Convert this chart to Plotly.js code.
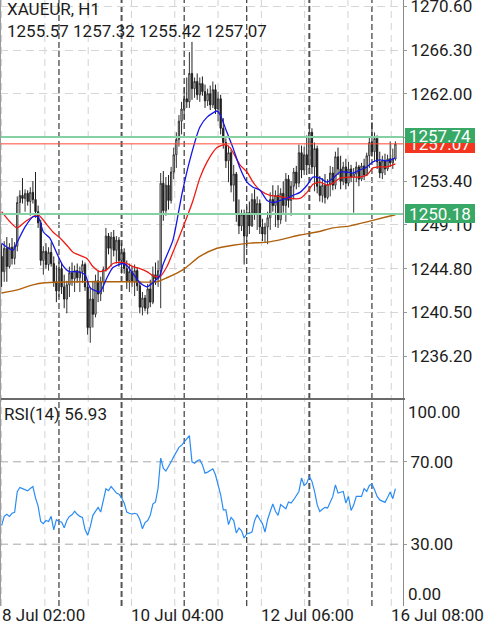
<!DOCTYPE html>
<html><head><meta charset="utf-8">
<script src="https://cdn.plot.ly/plotly-3.0.1.min.js"></script>
<style>html,body{margin:0;padding:0;background:#fff;}#chart{width:488px;height:625px;}</style>
</head><body><div id="chart"></div>
<script>
const symbolTitle = 'XAUEUR, H1';
const openP = [1246.0,1244.5,1246.8,1245.0,1246.9,1245.8,1247.0,1251.3,1252.0,1251.7,1252.2,1251.4,1252.3,1251.6,1250.4,1249.3,1245.6,1246.5,1245.2,1246.4,1245.3,1243.5,1242.6,1244.8,1243.0,1241.8,1243.2,1244.4,1243.8,1244.6,1243.9,1244.5,1245.2,1243.0,1239.0,1241.8,1240.3,1243.6,1242.3,1243.5,1244.7,1248.0,1246.8,1247.9,1246.6,1247.6,1245.6,1246.4,1244.8,1243.6,1244.5,1243.5,1244.6,1243.1,1241.0,1241.9,1240.9,1242.8,1241.5,1244.2,1243.8,1244.6,1253.2,1250.5,1253.0,1251.5,1254.3,1256.0,1257.5,1259.3,1260.5,1261.5,1261.2,1264.0,1262.5,1263.2,1261.9,1263.0,1262.2,1261.3,1262.0,1260.9,1262.4,1260.5,1261.5,1258.6,1257.2,1255.4,1256.2,1253.0,1254.1,1250.2,1249.0,1250.1,1248.0,1250.3,1249.0,1251.6,1250.2,1251.2,1248.9,1248.2,1248.9,1249.8,1251.6,1251.0,1252.0,1249.6,1252.2,1251.0,1253.6,1251.5,1252.9,1254.3,1253.2,1256.2,1254.5,1256.0,1255.0,1258.2,1254.8,1256.6,1252.9,1252.0,1253.0,1251.8,1253.1,1254.2,1253.0,1255.8,1254.6,1253.4,1254.8,1253.2,1254.6,1253.8,1254.1,1254.8,1253.6,1254.9,1254.0,1255.9,1257.2,1256.3,1257.6,1255.3,1254.2,1255.4,1254.6,1255.6,1255.2,1255.57];
const highP = [1247.2,1247.5,1247.9,1247.3,1247.8,1247.4,1251.9,1252.5,1253.7,1252.6,1252.5,1252.8,1253.4,1254.3,1251.0,1249.6,1247.0,1247.3,1246.9,1247.4,1246.0,1245.1,1245.5,1245.4,1244.2,1243.6,1245.0,1245.4,1245.1,1245.3,1245.0,1245.6,1245.4,1243.5,1243.0,1243.6,1244.2,1244.6,1244.0,1245.0,1248.8,1248.3,1248.4,1248.6,1248.0,1247.9,1247.3,1246.8,1245.6,1245.3,1245.0,1245.2,1244.9,1243.6,1242.5,1242.2,1243.3,1243.7,1245.0,1245.4,1245.6,1254.2,1254.4,1253.8,1254.0,1254.8,1256.7,1258.2,1259.9,1261.2,1262.6,1263.6,1266.1,1267.1,1263.6,1264.0,1263.6,1263.7,1262.9,1262.5,1262.8,1263.2,1262.9,1262.2,1261.9,1259.6,1257.6,1256.9,1256.5,1255.0,1254.3,1251.6,1250.6,1250.6,1250.9,1251.4,1252.2,1252.6,1251.9,1251.6,1249.7,1249.3,1250.4,1252.3,1253.0,1252.5,1253.0,1252.7,1253.4,1254.2,1254.0,1253.4,1254.7,1254.9,1257.0,1256.9,1256.8,1257.9,1259.1,1258.6,1257.2,1256.9,1253.9,1253.7,1254.1,1253.6,1254.9,1254.8,1256.3,1256.7,1255.9,1255.3,1255.6,1255.3,1255.0,1254.7,1255.3,1255.0,1255.2,1255.6,1256.2,1257.8,1259.2,1258.2,1257.9,1256.3,1255.9,1256.1,1256.0,1257.3,1256.6,1257.32];
const lowP = [1243.0,1243.5,1243.5,1244.8,1245.2,1245.2,1246.5,1250.2,1251.2,1250.4,1251.0,1250.0,1251.2,1249.8,1248.8,1245.1,1244.2,1244.8,1244.6,1245.0,1243.0,1241.5,1242.0,1242.3,1240.9,1240.4,1242.0,1243.1,1242.5,1243.4,1242.5,1243.4,1242.6,1238.3,1237.5,1239.0,1240.0,1241.5,1241.6,1242.5,1244.5,1246.2,1245.0,1246.0,1245.3,1245.0,1244.3,1244.3,1242.8,1242.5,1243.0,1242.1,1242.6,1240.4,1240.2,1240.6,1240.3,1241.0,1241.3,1243.2,1243.0,1240.9,1249.5,1250.0,1250.6,1251.2,1253.6,1254.7,1256.8,1258.0,1259.5,1260.6,1260.6,1261.4,1261.6,1261.4,1261.2,1261.8,1260.6,1260.8,1260.4,1260.6,1260.0,1259.3,1258.0,1256.6,1254.7,1253.3,1252.3,1251.4,1249.4,1248.2,1248.5,1245.2,1246.8,1248.2,1248.9,1249.6,1248.6,1248.2,1247.5,1247.4,1247.2,1248.6,1250.4,1248.9,1248.8,1249.2,1250.3,1249.4,1250.8,1250.0,1251.6,1252.6,1252.8,1253.7,1254.0,1254.0,1254.6,1254.1,1252.4,1252.2,1251.4,1251.3,1251.2,1251.6,1251.9,1252.5,1252.6,1254.0,1252.6,1253.0,1252.6,1252.9,1253.3,1250.3,1253.3,1252.9,1253.4,1253.5,1253.9,1254.7,1255.8,1255.4,1254.6,1253.7,1253.6,1254.0,1254.4,1254.8,1254.6,1255.42];
const closeP = [1244.5,1246.8,1245.0,1246.9,1245.8,1247.0,1251.3,1252.0,1251.7,1252.2,1251.4,1252.3,1251.6,1250.4,1249.3,1245.6,1246.5,1245.2,1246.4,1245.3,1243.5,1242.6,1244.8,1243.0,1241.8,1243.2,1244.4,1243.8,1244.6,1243.9,1244.5,1245.2,1243.0,1239.0,1241.8,1240.3,1243.6,1242.3,1243.5,1244.7,1248.0,1246.8,1247.9,1246.6,1247.6,1245.6,1246.4,1244.8,1243.6,1244.5,1243.5,1244.6,1243.1,1241.0,1241.9,1240.9,1242.8,1241.5,1244.2,1243.8,1244.6,1253.2,1250.5,1253.0,1251.5,1254.3,1256.0,1257.5,1259.3,1260.5,1261.5,1261.2,1264.0,1262.5,1263.2,1261.9,1263.0,1262.2,1261.3,1262.0,1260.9,1262.4,1260.5,1261.5,1258.6,1257.2,1255.4,1256.2,1253.0,1254.1,1250.2,1249.0,1250.1,1248.0,1250.3,1249.0,1251.6,1250.2,1251.2,1248.9,1248.2,1248.9,1249.8,1251.6,1251.0,1252.0,1249.6,1252.2,1251.0,1253.6,1251.5,1252.9,1254.3,1253.2,1256.2,1254.5,1256.0,1255.0,1258.2,1254.8,1256.6,1252.9,1252.0,1253.0,1251.8,1253.1,1254.2,1253.0,1255.8,1254.6,1253.4,1254.8,1253.2,1254.6,1253.8,1254.1,1254.8,1253.6,1254.9,1254.0,1255.9,1257.2,1256.3,1257.6,1255.3,1254.2,1255.4,1254.6,1255.6,1255.2,1255.57,1257.07];
const rsi14 = [39.0,43.5,44.5,43.5,45.0,45.5,55.5,57.5,57.0,56.4,55.9,57.0,58.0,52.5,48.5,41.0,40.0,41.5,41.0,43.5,37.0,41.9,41.0,40.8,38.0,41.5,43.5,44.3,46.0,44.5,43.5,43.0,37.1,34.3,38.5,44.0,45.9,47.9,45.6,52.0,56.9,56.0,58.0,56.5,54.8,54.3,52.5,50.0,45.6,45.0,44.6,45.0,44.6,42.0,37.5,40.5,41.5,44.0,49.5,50.5,57.2,71.8,66.9,65.5,67.5,70.0,72.5,75.0,77.0,78.0,79.5,81.0,82.7,70.0,69.3,70.5,71.0,68.5,64.5,65.0,66.0,66.6,63.7,58.8,54.0,46.7,46.7,39.5,43.0,41.5,35.4,37.9,36.5,33.0,35.0,35.4,35.9,41.4,44.3,42.0,40.0,35.9,42.0,45.9,49.5,46.0,44.0,49.2,48.0,47.2,50.5,50.0,51.6,53.5,55.6,62.1,58.5,59.6,62.9,60.5,55.6,49.2,45.9,47.0,47.9,47.6,50.8,53.2,58.8,54.8,55.2,55.6,50.0,53.2,46.4,49.0,53.2,53.2,53.2,57.0,55.6,58.5,59.2,56.4,53.2,51.5,50.8,50.3,52.7,55.3,52.1,56.93];

const maFastBars = [0,4.4,6,9,12,14,16,18.5,21,23.5,26,29,32,34,37.7,40.4,42.7,46.2,48,50.4,53,55.7,58,60.7,61.9,65.7,69.2,72.2,76,78.8,82.6,83.7,86.4,88.7,91.4,94.1,96.4,99.1,101.8,104.1,106.8,109.4,111.7,114.4,117.1,119.4,122.1,124.8,127.1,129.8,132.4,134.7,137.4,140.1,142.4,145.1,147.8,150.1,151];
const maFastVals = [1247.3,1246.6,1247.4,1248.9,1249.9,1249.9,1248.4,1247.8,1246.4,1245.1,1244.5,1244.5,1244.2,1242.9,1242.5,1243.9,1244.9,1245.3,1245.1,1244.3,1243.4,1243.0,1243.4,1244.1,1245.2,1247.6,1252.2,1255.5,1258.7,1259.7,1260.3,1260.0,1258.2,1256.7,1254.7,1253.3,1252.8,1252.5,1251.5,1251.3,1251.5,1251.7,1252.0,1252.3,1253.0,1253.8,1253.7,1253.3,1253.7,1254.3,1254.3,1254.2,1254.5,1254.8,1255.3,1255.5,1255.4,1255.6,1255.7];
const maMidBars = [0,3.2,5.9,9,12,14,17.4,19.7,22.4,25,27.4,30,32.7,35,37.7,40.4,42.7,46.2,48,50.4,53,55.7,58,60.7,63.4,65.7,69.6,73.4,76,78.8,82.6,85.6,87.6,91.4,94.1,96.4,99.1,102.9,106.7,110.6,114.4,117.1,119.4,122.1,124.8,127.1,129.8,133.6,137.4,140.1,142.4,145.1,147.8,151];
const maMidVals = [1250.4,1249.4,1248.8,1249.4,1249.9,1250.1,1249.1,1248.4,1247.8,1247.1,1246.4,1246.1,1245.8,1245.0,1244.5,1244.7,1245.3,1245.4,1245.3,1245.0,1244.8,1244.5,1244.1,1244.0,1245.0,1246.4,1248.9,1251.5,1253.7,1255.3,1256.7,1257.0,1256.7,1255.0,1254.3,1253.3,1252.5,1252.0,1251.9,1251.7,1251.7,1252.3,1253.1,1253.3,1253.0,1253.2,1253.7,1253.8,1253.8,1254.0,1254.7,1254.8,1254.8,1255.1];
const maSlowBars = [0,6,12,16.6,30,49.2,59.6,63.4,69.6,76,82.6,88.7,95.2,101.8,107.9,114.4,120.9,127.1,133.6,140.1,146.2,151];
const maSlowVals = [1242.4,1242.7,1243.2,1243.4,1243.5,1243.5,1243.5,1243.9,1244.7,1246.0,1246.8,1247.1,1247.3,1247.4,1247.7,1248.1,1248.4,1248.8,1249.0,1249.4,1249.8,1250.1];

const priceTicks = [1270.60,1266.30,1262.00,1257.70,1253.40,1249.10,1244.80,1240.50,1236.20];
const hiddenPriceTicks = [1257.70];
const rsiTicks = [70,30];
const rsiEndTicks = [100,0];
const levelLines = [1257.74,1250.18];
const timeLabels = ['8 Jul 02:00','10 Jul 04:00','12 Jul 06:00','16 Jul 08:00'];
const timeLabelBars = [0,49.8,99.6,149.4];
const gridBars = [0,16.6,33.2,49.8,66.4,83,99.6,116.2,132.8,149.4];
const daySepBars = [22,46,70,94,118,142];
const strongSepBars = [46,118];

const bars = closeP.map((_, i) => i);
const n = closeP.length;
const lastClose = closeP[n-1];
const FONT = 'Roboto, sans-serif';
const TXT = '#1c1c1c';
const f2 = v => v.toFixed(2);

const traces = [
  {type:'candlestick', x:bars, open:openP, high:highP, low:lowP, close:closeP,
   xaxis:'x', yaxis:'y', whiskerwidth:0, hoverinfo:'skip', showlegend:false,
   increasing:{line:{color:'#333333', width:1}, fillcolor:'#ffffff'},
   decreasing:{line:{color:'#1e1e1e', width:1}, fillcolor:'#1e1e1e'}},
  {type:'scatter', mode:'lines', x:maSlowBars, y:maSlowVals, xaxis:'x', yaxis:'y',
   line:{color:'#b0600c', width:1.4, shape:'spline', smoothing:0.6}, hoverinfo:'skip', showlegend:false},
  {type:'scatter', mode:'lines', x:maMidBars, y:maMidVals, xaxis:'x', yaxis:'y',
   line:{color:'#ee1a14', width:1.3, shape:'spline', smoothing:0.6}, hoverinfo:'skip', showlegend:false},
  {type:'scatter', mode:'lines', x:maFastBars, y:maFastVals, xaxis:'x', yaxis:'y',
   line:{color:'#1515e6', width:1.3, shape:'spline', smoothing:0.6}, hoverinfo:'skip', showlegend:false},
  {type:'scatter', mode:'lines', x:bars, y:rsi14, xaxis:'x2', yaxis:'y2',
   line:{color:'#2a8cf5', width:1.2}, hoverinfo:'skip', showlegend:false}
];

const shapes = [];
gridBars.forEach(b => shapes.push({type:'line', xref:'x', yref:'paper', x0:b, x1:b, y0:0, y1:1,
  line:{color:'#d2d2d2', width:1, dash:'7px,5px'}, layer:'below'}));
daySepBars.forEach(b => {
  const strong = strongSepBars.indexOf(b) >= 0;
  shapes.push({type:'line', xref:'x', yref:'paper', x0:b, x1:b, y0:0, y1:1,
    line:{color: strong ? '#555555' : '#111111', width: strong ? 2 : 1, dash:'6px,3px'}, layer:'below'});
});
rsiTicks.forEach(v => shapes.push({type:'line', xref:'paper', yref:'y2', x0:0, x1:1, y0:v, y1:v,
  line:{color:'#a8a8a8', width:1, dash:'8px,5px'}, layer:'below'}));
levelLines.forEach(v => shapes.push({type:'line', xref:'paper', yref:'y', x0:0, x1:1, y0:v, y1:v,
  line:{color:'#86d1a4', width:2}, layer:'above'}));
shapes.push({type:'line', xref:'paper', yref:'y', x0:0, x1:1, y0:lastClose, y1:lastClose,
  line:{color:'#ff4a36', width:1}, layer:'above'});
shapes.push({type:'line', xref:'paper', yref:'paper', x0:0, x1:1.005, y0:1-399/606, y1:1-399/606,
  line:{color:'#6a6a6a', width:2}});
shapes.push({type:'line', xref:'paper', yref:'paper', x0:0, x1:0, y0:0, y1:1,
  line:{color:'#9a9a9a', width:2}});

const annotations = [];
annotations.push({xref:'paper', yref:'paper', x:7/403, y:1-31/606, xanchor:'left', yanchor:'middle', xshift:-2,
  text:[openP[n-1], highP[n-1], lowP[n-1], closeP[n-1]].map(f2).join(' '), showarrow:false,
  font:{family:FONT, size:17, color:TXT}});
annotations.push({xref:'paper', yref:'paper', x:4/403, y:1-414/606, xanchor:'left', yanchor:'middle', xshift:-2,
  text:'RSI(14) ' + f2(rsi14[n-1]), showarrow:false, font:{family:FONT, size:17, color:TXT}});
timeLabels.forEach((t, i) => annotations.push({xref:'x2', yref:'paper', x:timeLabelBars[i], y:-9/606,
  xanchor:'left', yanchor:'middle', xshift:-2, text:t, showarrow:false, font:{family:FONT, size:17, color:TXT}}));
annotations.push({xref:'paper', yref:'y2', x:1, y:rsiEndTicks[0], xanchor:'left', yanchor:'top', xshift:3,
  text:f2(rsiEndTicks[0]), showarrow:false, font:{family:FONT, size:17, color:TXT}});
annotations.push({xref:'paper', yref:'y2', x:1, y:rsiEndTicks[1], xanchor:'left', yanchor:'bottom', xshift:3,
  text:f2(rsiEndTicks[1]), showarrow:false, font:{family:FONT, size:17, color:TXT}});
// current price tag (partly hidden under the level tag, as in the reference), then level tags
annotations.push({xref:'paper', yref:'y', x:1, y:lastClose, xanchor:'left', yanchor:'middle', xshift:2,
  width:70, height:19, borderpad:0, borderwidth:0, bgcolor:'#f2361f', align:'center',
  text:f2(lastClose), showarrow:false, font:{family:FONT, size:17, color:'#ffffff'}});
annotations.push({xref:'paper', yref:'y', x:1, y:levelLines[0], xanchor:'left', yanchor:'middle', xshift:2, yshift:2,
  width:70, height:15, borderpad:0, borderwidth:0, bgcolor:'#37a865', align:'center',
  text:f2(levelLines[0]), showarrow:false, font:{family:FONT, size:17, color:'#ffffff'}});
annotations.push({xref:'paper', yref:'y', x:1, y:levelLines[1], xanchor:'left', yanchor:'middle', xshift:2,
  width:70, height:19, borderpad:0, borderwidth:0, bgcolor:'#37a865', align:'center',
  text:f2(levelLines[1]), showarrow:false, font:{family:FONT, size:17, color:'#ffffff'}});

const xr = [-1.6/2.608, (403-1.6)/2.608];
const layout = {
  width:488, height:625, margin:{l:0, r:85, t:0, b:19},
  paper_bgcolor:'#ffffff', plot_bgcolor:'#ffffff',
  font:{family:FONT, size:17, color:TXT},
  title:{text:symbolTitle, xref:'container', yref:'container', x:7/488, y:1-9/625,
    xanchor:'left', yanchor:'middle', font:{family:FONT, size:17, color:TXT}},
  showlegend:false,
  xaxis:{domain:[0,1], range:xr, anchor:'y', showticklabels:false, showgrid:false, zeroline:false,
    showline:false, ticks:'', rangeslider:{visible:false}, fixedrange:true},
  xaxis2:{domain:[0,1], range:xr, anchor:'y2', showticklabels:false, showgrid:false, zeroline:false,
    showline:false, ticks:'', fixedrange:true},
  yaxis:{domain:[1-398/606, 1], range:[1232.07, 1271.22], side:'right', anchor:'x',
    tickmode:'array', tickvals:priceTicks,
    ticktext:priceTicks.map(v => hiddenPriceTicks.indexOf(v) >= 0 ? '' : f2(v)),
    ticklabeloverflow:'allow',
    ticks:'outside', ticklen:3, tickcolor:'#999', showgrid:true, gridcolor:'#d6d6d6', griddash:'8px,5px',
    zeroline:false, showline:true, linecolor:'#8a8a8a', linewidth:1, fixedrange:true,
    tickfont:{family:FONT, size:17, color:TXT}},
  yaxis2:{domain:[0, 206/606], range:[0,100], side:'right', anchor:'x2',
    tickmode:'array', tickvals:rsiTicks, ticktext:rsiTicks.map(f2),
    ticks:'outside', ticklen:3, tickcolor:'#999', showgrid:false,
    zeroline:false, showline:true, linecolor:'#8a8a8a', linewidth:1, fixedrange:true,
    tickfont:{family:FONT, size:17, color:TXT}},
  shapes:shapes, annotations:annotations
};
Plotly.newPlot('chart', traces, layout, {staticPlot:true, displayModeBar:false});
</script></body></html>
